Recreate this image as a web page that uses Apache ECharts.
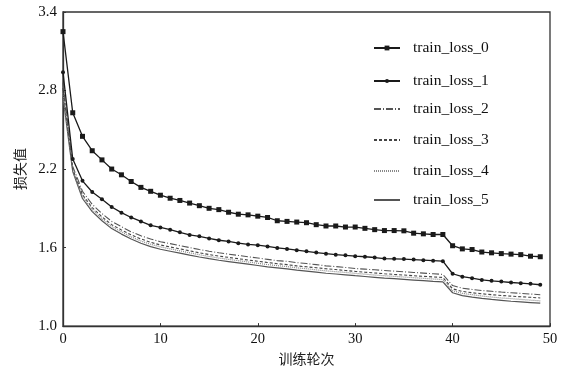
<!DOCTYPE html>
<html>
<head>
<meta charset="utf-8">
<script src="https://cdn.jsdelivr.net/npm/echarts@6/dist/echarts.min.js"></script>
<style>html,body{margin:0;padding:0;background:#fff}#c{width:563px;height:371px}</style>
</head>
<body>
<div id="c"></div>
<script>
var epochs = [0,1,2,3,4,5,6,7,8,9,10,11,12,13,14,15,16,17,18,19,20,21,22,23,24,25,26,27,28,29,30,31,32,33,34,35,36,37,38,39,40,41,42,43,44,45,46,47,48,49];
var seriesNames = ['train_loss_0','train_loss_1','train_loss_2','train_loss_3','train_loss_4','train_loss_5'];
var loss0 = [3.25,2.63,2.45,2.34,2.27,2.20,2.156,2.105,2.06,2.03,2.0,1.977,1.96,1.94,1.92,1.90,1.89,1.87,1.855,1.85,1.84,1.83,1.805,1.80,1.795,1.79,1.775,1.765,1.765,1.757,1.757,1.747,1.737,1.73,1.73,1.728,1.71,1.705,1.70,1.70,1.614,1.59,1.585,1.566,1.56,1.554,1.55,1.546,1.534,1.53];
var loss1 = [2.94,2.276,2.11,2.025,1.97,1.91,1.867,1.83,1.80,1.77,1.754,1.737,1.717,1.697,1.686,1.67,1.656,1.647,1.634,1.624,1.618,1.609,1.597,1.59,1.58,1.571,1.562,1.553,1.546,1.541,1.534,1.53,1.524,1.516,1.514,1.512,1.508,1.504,1.50,1.496,1.40,1.378,1.366,1.353,1.346,1.34,1.333,1.328,1.323,1.316];
var loss2 = [2.86,2.22,2.03,1.93,1.86,1.80,1.76,1.72,1.69,1.665,1.645,1.63,1.615,1.60,1.585,1.572,1.56,1.55,1.54,1.53,1.52,1.51,1.50,1.495,1.485,1.478,1.47,1.46,1.455,1.448,1.44,1.435,1.43,1.425,1.42,1.415,1.41,1.405,1.40,1.395,1.31,1.29,1.28,1.272,1.266,1.26,1.255,1.25,1.245,1.24];
var loss3 = [2.82,2.20,2.005,1.905,1.835,1.775,1.735,1.697,1.666,1.64,1.62,1.605,1.59,1.575,1.56,1.547,1.535,1.525,1.515,1.505,1.495,1.486,1.477,1.47,1.46,1.453,1.446,1.438,1.432,1.425,1.418,1.412,1.406,1.40,1.395,1.39,1.385,1.38,1.376,1.372,1.285,1.265,1.255,1.247,1.24,1.234,1.229,1.224,1.22,1.215];
var loss4 = [2.78,2.19,1.99,1.89,1.82,1.76,1.72,1.682,1.65,1.625,1.605,1.59,1.575,1.56,1.545,1.532,1.52,1.51,1.50,1.49,1.48,1.47,1.462,1.455,1.445,1.438,1.43,1.422,1.416,1.41,1.403,1.397,1.39,1.385,1.38,1.375,1.37,1.365,1.36,1.356,1.27,1.25,1.24,1.23,1.222,1.215,1.21,1.204,1.198,1.193];
var loss5 = [2.75,2.18,1.975,1.875,1.805,1.745,1.703,1.665,1.633,1.607,1.587,1.572,1.557,1.542,1.528,1.515,1.503,1.493,1.483,1.473,1.463,1.453,1.445,1.437,1.428,1.42,1.412,1.404,1.398,1.392,1.385,1.379,1.373,1.367,1.362,1.357,1.352,1.347,1.342,1.338,1.255,1.233,1.222,1.212,1.204,1.197,1.19,1.185,1.18,1.175];
var xTicks = [0,10,20,30,40,50];
var yTicks = [1.0,1.6,2.2,2.8,3.4];
var xName = '训练轮次';
var yName = '损失值';

var allLoss = [loss0,loss1,loss2,loss3,loss4,loss5];
function pairs(arr){ return arr.map(function(v,i){ return [epochs[i], v]; }); }

var styles = [
  {color:'#1a1a1a', type:'solid', width:1.3, symbol:'rect', symbolSize:5, showSymbol:true, legH:6},
  {color:'#1a1a1a', type:'solid', width:1.3, symbol:'circle', symbolSize:4, showSymbol:true, legH:5},
  {color:'#555', type:[7,2,1,2], width:1.1, symbol:'none', symbolSize:0, showSymbol:false, legH:4},
  {color:'#444', type:[3,2], width:1.1, symbol:'none', symbolSize:0, showSymbol:false, legH:4},
  {color:'#888', type:[1,1], width:1.2, symbol:'none', symbolSize:0, showSymbol:false, legH:4},
  {color:'#555', type:'solid', width:1.2, symbol:'none', symbolSize:0, showSymbol:false, legH:4}
];
var legendTops = [40, 73, 101, 132, 163, 192];

var serif = '"Liberation Serif","Times New Roman",serif';
var chart = echarts.init(document.getElementById('c'), null, {renderer:'canvas'});
var series = allLoss.map(function(arr, k){
  var s = styles[k];
  return {
    name: seriesNames[k], type:'line', data: pairs(arr),
    symbol: s.symbol, symbolSize: s.symbolSize, showSymbol: s.showSymbol,
    itemStyle:{color:s.color},
    lineStyle:{color:s.color, type:s.type, width:s.width},
    silent:true, animation:false, z: 10 - k
  };
});
var legends = seriesNames.map(function(n,k){
  var item = {name:n};
  if (styles[k].symbol === 'none') item.itemStyle = {opacity:0};
  return {
    data:[item],
    left:373, top:legendTops[k], orient:'vertical', padding:0,
    itemWidth:26, itemHeight:styles[k].legH, itemGap:0,
    textStyle:{fontFamily:serif, fontSize:15.5, color:'#111', padding:[0,0,0,8]},
    selectedMode:false
  };
});
chart.setOption({
  backgroundColor:'#fff',
  animation:false,
  legend: legends,
  grid:{left:63, right:13, top:12, bottom:39, show:true, borderColor:'#333', borderWidth:1.3, backgroundColor:'transparent'},
  xAxis:{
    type:'value', min:xTicks[0], max:xTicks[xTicks.length-1], interval:10,
    name:xName, nameLocation:'middle', nameGap:22,
    nameTextStyle:{fontFamily:'"Noto Sans CJK SC",sans-serif', fontSize:14, color:'#222'},
    axisLine:{show:true, lineStyle:{color:'#333', width:1.3}},
    axisTick:{show:true, inside:true, length:3, lineStyle:{color:'#333'}},
    axisLabel:{fontFamily:serif, fontSize:14.5, color:'#111', margin:6},
    splitLine:{show:false}
  },
  yAxis:{
    type:'value', min:yTicks[0], max:yTicks[yTicks.length-1], interval:0.6,
    name:yName, nameLocation:'middle', nameGap:36, nameRotate:90,
    nameTextStyle:{fontFamily:'"Noto Sans CJK SC",sans-serif', fontSize:14, color:'#222'},
    axisLine:{show:true, lineStyle:{color:'#333', width:1.3}},
    axisTick:{show:true, inside:true, length:3, lineStyle:{color:'#333'}},
    axisLabel:{fontFamily:serif, fontSize:15, color:'#111', margin:6, formatter:function(v){return v.toFixed(1);}},
    splitLine:{show:false}
  },
  series: series
});
</script>
</body>
</html>
